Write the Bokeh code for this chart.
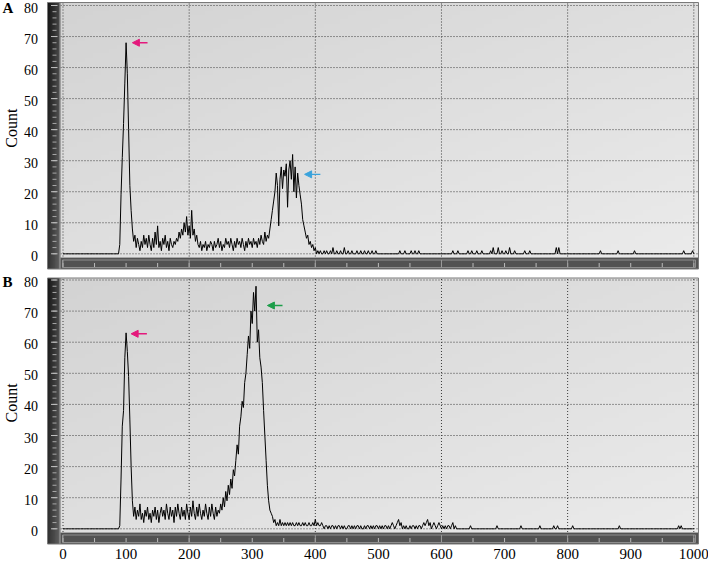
import numpy as np
from bokeh.plotting import figure
from bokeh.layouts import column
from bokeh.models import Range1d, Arrow, NormalHead
from bokeh.core.properties import value
from bokeh.embed import file_html
from bokeh.resources import INLINE

# ---------------- data ----------------
BIN = 2            # channel width of the histogram
X_MAX = 1000

# Panel A: counts for channels 86, 88, ..., 420
a_start = 86
a_counts = [
    0, 0, 3, 19, 31, 42, 55, 68, 58, 40,
    22, 14, 8, 4, 6, 2, 5, 3, 1, 4,
    2, 6, 3, 5, 2, 6, 3, 1, 5, 2,
    7, 3, 9, 2, 4, 1, 5, 3, 6, 2,
    4, 1, 5, 3, 2, 4, 3, 5, 4, 7,
    5, 8, 6, 10, 7, 12, 6, 9, 5, 14,
    6, 8, 4, 6, 3, 2, 4, 1, 3, 2,
    4, 1, 3, 2, 4, 3, 1, 4, 2, 3,
    5, 2, 4, 1, 3, 2, 5, 3, 4, 2,
    5, 3, 1, 4, 2, 5, 3, 4, 2, 5,
    3, 1, 4, 2, 5, 3, 4, 2, 5, 3,
    4, 2, 5, 3, 6, 4, 3, 7, 4, 6,
    5, 8, 11, 14, 17, 20, 26, 22, 9, 24,
    28, 21, 27, 25, 29, 15, 27, 30, 24, 32,
    20, 28, 18, 26, 22, 19, 16, 11, 9, 7,
    5, 6, 3, 4, 2, 3, 1, 2, 0, 1,
    0, 1, 0, 0, 1, 0, 1, 0,
]
# Panel A: isolated counts in the sparse tail
a_tail_x = [424, 428, 434, 440, 446, 452, 458, 466, 472, 478, 484, 490, 496,
            534, 542, 552, 558, 564, 618, 626, 642, 648, 656, 664, 678, 682,
            690, 696, 702, 708, 716, 732, 740, 782, 786, 852, 880, 906, 984, 998]
a_tail_y = [1, 2, 1, 1, 2, 1, 1, 1, 1, 1, 1, 1, 1,
            1, 1, 1, 1, 1, 1, 1, 1, 1, 1, 1, 1, 2,
            2, 1, 1, 2, 1, 1, 1, 2, 2, 1, 1, 1, 1, 1]

# Panel B: counts for channels 86, 88, ..., 626
b_start = 86
b_counts = [
    0, 0, 1, 16, 33, 38, 55, 63, 57, 49,
    35, 20, 9, 4, 7, 3, 6, 4, 8, 3,
    5, 2, 6, 4, 7, 3, 5, 2, 6, 4,
    7, 3, 6, 2, 5, 7, 4, 6, 3, 8,
    5, 3, 7, 4, 6, 2, 7, 4, 8, 5,
    3, 7, 4, 6, 3, 8, 5, 3, 7, 4,
    9, 5, 3, 7, 4, 8, 5, 3, 6, 4,
    8, 5, 3, 7, 4, 8, 5, 3, 7, 4,
    6, 5, 8, 6, 10, 7, 12, 9, 14, 11,
    16, 13, 19, 17, 22, 27, 24, 33, 36, 41,
    39, 47, 50, 56, 62, 58, 70, 66, 76, 70,
    78, 60, 64, 55, 52, 47, 38, 30, 22, 14,
    9, 6, 5, 4, 2, 3, 1, 2, 1, 3,
    1, 2, 1, 2, 1, 2, 1, 2, 1, 2,
    1, 1, 2, 1, 2, 1, 1, 2, 1, 2,
    1, 1, 2, 1, 1, 2, 1, 3, 1, 2,
    1, 1, 2, 1, 0, 1, 1, 0, 1, 0,
    1, 1, 0, 1, 0, 1, 1, 0, 1, 0,
    1, 0, 0, 1, 1, 0, 1, 0, 1, 0,
    1, 1, 0, 1, 0, 0, 1, 0, 1, 1,
    0, 1, 0, 1, 0, 1, 1, 0, 1, 0,
    1, 0, 1, 1, 0, 1, 0, 1, 2, 1,
    0, 1, 2, 3, 1, 2, 0, 1, 0, 1,
    0, 0, 1, 0, 1, 1, 0, 1, 0, 1,
    1, 0, 1, 2, 1, 2, 3, 1, 2, 0,
    1, 2, 1, 0, 1, 2, 1, 0, 1, 0,
    1, 0, 1, 1, 0, 1, 2, 0, 1, 0,
    0,
]
b_tail_x = [646, 688, 726, 756, 778, 784, 808, 882, 976, 980]
b_tail_y = [1, 1, 1, 1, 1, 1, 1, 1, 1, 1]

x_ticks = [0, 100, 200, 300, 400, 500, 600, 700, 800, 900, 1000]
x_tick_labels = ["0", "100", "200", "300", "400", "500", "600", "700",
                 "800", "900", "1000"]
y_ticks = [0, 10, 20, 30, 40, 50, 60, 70, 80]
y_tick_labels = ["0", "10", "20", "30", "40", "50", "60", "70", "80"]
x_grid = [0, 200, 400, 600, 800, 1000]
band_ticks = [0, 50, 100, 150, 200, 250, 300, 350, 400, 450, 500,
              550, 600, 650, 700, 750, 800, 850, 900, 950, 1000]
y_minor = [0, 2, 4, 6, 8, 10, 12, 14, 16, 18, 20, 22, 24, 26, 28, 30, 32,
           34, 36, 38, 40, 42, 44, 46, 48, 50, 52, 54, 56, 58, 60, 62, 64,
           66, 68, 70, 72, 74, 76, 78, 80]

# arrows marking the peaks (tail x, head x, height, colour)
a_arrow_tail = [134, 408]
a_arrow_head = [110, 383]
a_arrow_y = [68, 25.6]
a_arrow_col = ["#e4197c", "#3aa3dc"]
b_arrow_tail = [133, 348]
b_arrow_head = [108, 324]
b_arrow_y = [62.7, 71.8]
b_arrow_col = ["#e4197c", "#1d9e4a"]

panel_names = ["A", "B"]
y_title = "Count"

# ---------------- geometry (page pixels) ----------------
W = 708
X0_PAGE, X1000_PAGE = 62.5, 693.3
SX = (X1000_PAGE - X0_PAGE) / 1000.0
X_START = -X0_PAGE / SX
X_END = X_START + W / SX
PANEL_L, LIGHT_L, PANEL_R = 47, 60, 698
FONT = "Liberation Serif"


def fx(px):
    return X_START + px / SX


def build_series(start, counts, tail_x, tail_y):
    x = np.arange(0, X_MAX + BIN, BIN)
    y = np.zeros(len(x))
    i0 = start // BIN
    y[i0:i0 + len(counts)] = counts
    for tx, ty in zip(tail_x, tail_y):
        y[tx // BIN] = ty
    return x, y


def rgba(v):
    ny, nx = v.shape
    img = np.empty((ny, nx), dtype=np.uint32)
    view = img.view(dtype=np.uint8).reshape((ny, nx, 4))
    vv = np.clip(v, 0, 255).astype(np.uint8)
    view[:, :, 0] = vv
    view[:, :, 1] = vv
    view[:, :, 2] = vv
    view[:, :, 3] = 255
    return img


def make_panel(name, xs, ys, arr_tail, arr_head, arr_y, arr_col,
               height, y80_py, y0_py, top_py, band_py, bottom_py, xlab_py):
    sy = (y0_py - y80_py) / 80.0
    y_end = 80 + y80_py / sy
    y_start = y_end - height / sy

    def fy(py):
        return y_end - py / sy

    p = figure(width=W, height=height,
               min_border_left=0, min_border_right=0, min_border_top=0,
               min_border_bottom=0,
               x_range=Range1d(X_START, X_END), y_range=Range1d(y_start, y_end),
               x_axis_location=None, y_axis_location=None,
               output_backend="svg", toolbar_location=None, title=None)
    p.background_fill_color = "white"
    p.border_fill_color = "white"
    p.outline_line_color = None
    for g in p.grid:
        g.visible = False

    # light plotting area with a soft gradient
    ny, nx = 60, 80
    r = np.linspace(0, 1, ny)[:, None]
    c = np.linspace(0, 1, nx)[None, :]
    bg = 211 + 12 * c + 12 * (1 - r)
    p.image_rgba(image=[rgba(bg)], x=fx(LIGHT_L), y=fy(band_py),
                 dw=fx(PANEL_R) - fx(LIGHT_L), dh=fy(top_py) - fy(band_py))

    # dotted grid
    p.segment(x0=fx(LIGHT_L), y0=y_ticks, x1=fx(PANEL_R), y1=y_ticks,
              line_color="#3c3c3c", line_width=1, line_dash="1 2")
    p.segment(x0=x_grid, y0=fy(top_py + 1), x1=x_grid, y1=fy(band_py),
              line_color="#3c3c3c", line_width=1, line_dash="1 2")

    # dark left band
    r2 = np.linspace(0, 1, 64)[:, None]
    c2 = np.linspace(0, 1, 8)[None, :]
    lb = 24 + 46 * c2 + 28 * (1 - r2)
    p.image_rgba(image=[rgba(lb)], x=fx(PANEL_L), y=fy(bottom_py),
                 dw=fx(LIGHT_L) - fx(PANEL_L), dh=fy(top_py) - fy(bottom_py))
    p.segment(x0=[fx(LIGHT_L - 0.5)], y0=[fy(top_py)], x1=[fx(LIGHT_L - 0.5)],
              y1=[fy(bottom_py)], line_color="#a4a4a4", line_width=1)
    p.segment(x0=fx(PANEL_L + 5), y0=y_minor, x1=fx(PANEL_L + 9), y1=y_minor,
              line_color="#a8a8a8", line_width=1)
    p.segment(x0=fx(PANEL_L + 3.5), y0=y_ticks, x1=fx(PANEL_L + 10), y1=y_ticks,
              line_color="#c0c0c0", line_width=1)

    # dark bottom band
    p.quad(left=[fx(LIGHT_L)], right=[fx(PANEL_R)], bottom=[fy(bottom_py)],
           top=[fy(band_py)], fill_color="#525252", line_color=None)
    p.quad(left=[fx(LIGHT_L + 2)], right=[fx(PANEL_R - 3)],
           bottom=[fy(bottom_py - 1.5)], top=[fy(band_py + 3)],
           fill_color=None, line_color="#8e8e8e", line_width=1)
    p.segment(x0=[fx(LIGHT_L)], y0=[fy(band_py + 0.5)], x1=[fx(PANEL_R)],
              y1=[fy(band_py + 0.5)], line_color="#a8a8a8", line_width=1)
    p.segment(x0=band_ticks, y0=fy(band_py + 6), x1=band_ticks,
              y1=fy(bottom_py - 2), line_color="#bcbcbc", line_width=1)
    p.segment(x0=x_grid, y0=fy(band_py + 3), x1=x_grid,
              y1=fy(bottom_py - 1.5), line_color="#9a9a9a", line_width=1)

    # panel outline
    p.quad(left=[fx(PANEL_L)], right=[fx(PANEL_R)], bottom=[fy(bottom_py)],
           top=[fy(top_py)], fill_color=None, line_color="#7a7a7a",
           line_width=1)

    # histogram trace
    p.line(xs, ys, line_color="#000000", line_width=1)

    # peak arrows
    for t, h, yy, col in zip(arr_tail, arr_head, arr_y, arr_col):
        p.add_layout(Arrow(x_start=t, y_start=yy, x_end=h, y_end=yy,
                           line_color=col, line_width=1.4,
                           end=NormalHead(size=7, fill_color=col,
                                          line_color=col, line_width=1)))

    # y tick labels (drawn slightly below their grid lines, as in the original)
    shift = 2.0 / sy
    p.text(x=[fx(37.5)] * len(y_ticks), y=[t - shift for t in y_ticks],
           text=y_tick_labels, text_align="right", text_baseline="middle",
           text_font=value(FONT), text_font_size="14px", text_color="black")
    # panel letter and axis title
    p.text(x=[fx(2)], y=[80 - shift], text=[name], text_align="left",
           text_baseline="middle", text_font=value(FONT),
           text_font_style="bold", text_font_size="15px", text_color="black")
    p.text(x=[fx(11)], y=[40.5], text=[y_title], angle=np.pi / 2,
           text_align="center", text_baseline="middle",
           text_font=value(FONT), text_font_size="16px", text_color="black")

    # x tick labels under the lower panel
    if xlab_py is not None:
        p.text(x=x_ticks, y=[fy(xlab_py)] * len(x_ticks), text=x_tick_labels,
               text_align="center", text_baseline="middle",
               text_font=value(FONT), text_font_size="15px",
               text_color="black")
    return p


ax, ay = build_series(a_start, a_counts, a_tail_x, a_tail_y)
bx, by = build_series(b_start, b_counts, b_tail_x, b_tail_y)

pA = make_panel(panel_names[0], ax, ay, a_arrow_tail, a_arrow_head, a_arrow_y,
                a_arrow_col, height=272, y80_py=5, y0_py=253.3,
                top_py=2, band_py=256.5, bottom_py=268.5, xlab_py=None)
pB = make_panel(panel_names[1], bx, by, b_arrow_tail, b_arrow_head, b_arrow_y,
                b_arrow_col, height=290, y80_py=7.5, y0_py=256.3,
                top_py=5.5, band_py=259.5, bottom_py=271.5, xlab_py=281.5)

layout = column(pA, pB, spacing=0)
open("out.html", "w").write(file_html(layout, INLINE))
